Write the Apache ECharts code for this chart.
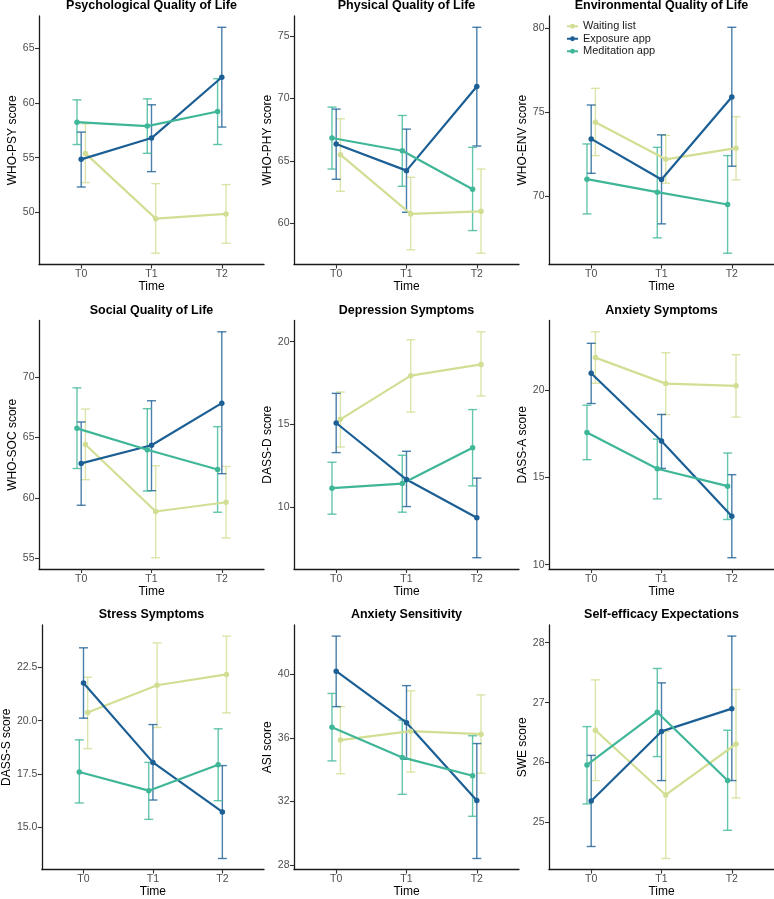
<!DOCTYPE html>
<html><head><meta charset="utf-8">
<script src="https://cdn.jsdelivr.net/npm/echarts@6/dist/echarts.min.js"></script>
<style>html,body{margin:0;padding:0;background:#fff}#c{width:774px;height:899px}</style>
</head><body><div id="c"></div>
<script>
// ---------- data ----------
const groups = ['Waiting list', 'Exposure app', 'Meditation app'];
const times = ['T0', 'T1', 'T2'];
const titles = ['Psychological Quality of Life', 'Physical Quality of Life', 'Environmental Quality of Life',
  'Social Quality of Life', 'Depression Symptoms', 'Anxiety Symptoms',
  'Stress Symptoms', 'Anxiety Sensitivity', 'Self-efficacy Expectations'];
const yNames = ['WHO-PSY score', 'WHO-PHY score', 'WHO-ENV score', 'WHO-SOC score',
  'DASS-D score', 'DASS-A score', 'DASS-S score', 'ASI score', 'SWE score'];
const yTicks = [[50, 55, 60, 65], [60, 65, 70, 75], [70, 75, 80], [55, 60, 65, 70],
  [10, 15, 20], [10, 15, 20], [15, 17.5, 20, 22.5], [28, 32, 36, 40], [25, 26, 27, 28]];
const yDecimals = [0, 0, 0, 0, 0, 0, 1, 0, 0];

// rows: Waiting list, Exposure app, Meditation app ; columns: T0, T1, T2
const psyMean = [[55.39, 49.45, 49.88], [54.85, 56.79, 62.33], [58.24, 57.88, 59.21]];
const psyLow  = [[52.73, 46.30, 47.21], [52.33, 53.73, 57.79], [56.20, 55.40, 56.20]];
const psyHigh = [[58.09, 52.64, 52.55], [57.33, 59.82, 66.88], [60.27, 60.36, 62.20]];

const phyMean = [[65.51, 60.77, 60.98], [66.36, 64.23, 70.96], [66.84, 65.82, 62.74]];
const phyLow  = [[62.58, 57.90, 57.63], [63.54, 60.90, 66.20], [64.36, 62.98, 59.44]];
const phyHigh = [[68.38, 63.70, 64.36], [69.15, 67.55, 75.69], [69.31, 68.64, 66.09]];

const envMean = [[74.41, 72.21, 72.87], [73.42, 71.01, 75.91], [71.03, 70.26, 69.53]];
const envLow  = [[72.43, 70.79, 70.99], [71.38, 68.38, 71.80], [68.97, 67.55, 66.64]];
const envHigh = [[76.42, 73.63, 74.74], [75.43, 73.66, 80.04], [73.12, 72.92, 72.43]];

const socMean = [[64.42, 58.86, 59.63], [62.85, 64.36, 67.85], [65.76, 63.98, 62.35]];
const socLow  = [[61.50, 55.03, 56.66], [59.38, 60.59, 62.00], [62.43, 60.56, 58.80]];
const socHigh = [[67.36, 62.65, 62.60], [66.29, 68.05, 73.77], [69.12, 67.39, 65.90]];

const depMean = [[15.31, 17.95, 18.63], [15.09, 11.67, 9.36], [11.15, 11.43, 13.60]];
const depLow  = [[13.64, 15.75, 16.72], [13.30, 10.04, 6.95], [9.58, 9.70, 11.29]];
const depHigh = [[16.96, 20.12, 20.60], [16.88, 13.38, 11.76], [12.72, 13.14, 15.90]];

const anxMean = [[21.87, 20.38, 20.25], [20.97, 17.09, 12.78], [17.58, 15.50, 14.50]];
const anxLow  = [[20.40, 18.61, 18.46], [19.24, 15.52, 10.40], [16.02, 13.77, 12.59]];
const anxHigh = [[23.35, 22.15, 22.04], [22.69, 18.61, 15.16], [19.14, 17.20, 16.40]];

const strMean = [[20.39, 21.67, 22.18], [21.77, 18.04, 15.71], [17.59, 16.71, 17.93]];
const strLow  = [[18.69, 19.68, 20.37], [20.12, 16.27, 13.52], [16.13, 15.36, 16.24]];
const strHigh = [[22.05, 23.66, 23.98], [23.43, 19.82, 17.89], [19.10, 18.04, 19.62]];

const asiMean = [[35.86, 36.42, 36.23], [40.19, 36.95, 32.06], [36.67, 34.77, 33.62]];
const asiLow  = [[33.74, 33.85, 33.77], [37.96, 34.65, 28.42], [34.55, 32.45, 31.07]];
const asiHigh = [[37.96, 38.95, 38.70], [42.39, 39.28, 35.64], [38.79, 37.12, 36.13]];

const sweMean = [[26.54, 25.46, 26.31], [25.36, 26.52, 26.90], [25.96, 26.84, 25.70]];
const sweLow  = [[25.70, 24.40, 25.41], [24.60, 25.70, 25.70], [25.31, 26.10, 24.87]];
const sweHigh = [[27.38, 26.52, 27.22], [26.12, 27.33, 28.11], [26.60, 27.57, 26.54]];

const means = [psyMean, phyMean, envMean, socMean, depMean, anxMean, strMean, asiMean, sweMean];
const lows  = [psyLow, phyLow, envLow, socLow, depLow, anxLow, strLow, asiLow, sweLow];
const highs = [psyHigh, phyHigh, envHigh, socHigh, depHigh, anxHigh, strHigh, asiHigh, sweHigh];

// ---------- style / layout ----------
const colors = ['#d2de94', '#1c5f95', '#3fb698'];
const dodge = [0.06, 0, -0.06];
const colLeft = [39, 294, 549];
const rowTop = [16, 320.5, 625];
const PW = 225, PH = 248.5;
const FONT = '"Liberation Sans", Arial, Helvetica, sans-serif';

const grid = [], xAxis = [], yAxis = [], series = [], graphic = [];

for (let p = 0; p < 9; p++) {
  const r = Math.floor(p / 3), c = p % 3;
  const left = colLeft[c], top = rowTop[r];
  grid.push({ left: left, top: top, width: PW, height: PH, containLabel: false });

  let lo = Infinity, hi = -Infinity;
  for (let g = 0; g < 3; g++) for (let t = 0; t < 3; t++) {
    lo = Math.min(lo, lows[p][g][t]); hi = Math.max(hi, highs[p][g][t]);
  }
  const pad = (hi - lo) * 0.05;

  xAxis.push({
    type: 'value', gridIndex: p, min: 0.4, max: 3.6,
    axisLine: { show: true, lineStyle: { color: '#1a1a1a', width: 1.3 } },
    axisTick: { show: true, length: 4, customValues: [1, 2, 3], lineStyle: { color: '#333', width: 1.1 } },
    axisLabel: { show: true, customValues: [1, 2, 3], margin: 4.5, color: '#4d4d4d', fontSize: 10.5, fontFamily: FONT,
      formatter: v => times[Math.round(v) - 1] },
    splitLine: { show: false },
    name: 'Time', nameLocation: 'middle', nameGap: 16,
    nameTextStyle: { color: '#000', fontSize: 12, fontFamily: FONT }
  });
  const dec = yDecimals[p];
  yAxis.push({
    type: 'value', gridIndex: p, min: lo - pad, max: hi + pad,
    axisLine: { show: true, lineStyle: { color: '#1a1a1a', width: 1.3 } },
    axisTick: { show: true, length: 4, customValues: yTicks[p], lineStyle: { color: '#333', width: 1.1 } },
    axisLabel: { show: true, customValues: yTicks[p], margin: 4.5, color: '#4d4d4d', fontSize: 10.5, fontFamily: FONT,
      formatter: v => Number(v).toFixed(dec) },
    splitLine: { show: false },
    name: yNames[p], nameLocation: 'middle', nameGap: 20, nameRotate: 90,
    nameTextStyle: { color: '#000', fontSize: 12, fontFamily: FONT }
  });

  graphic.push({
    type: 'text', x: left + PW / 2, y: top - 10, silent: true,
    style: { text: titles[p], fill: '#000', fontSize: 12.5, fontWeight: 'bold', fontFamily: FONT,
      align: 'center', verticalAlign: 'middle' }
  });

  for (let g = 0; g < 3; g++) {
    const ebData = [];
    for (let t = 0; t < 3; t++) {
      ebData.push([t + 1 + dodge[g], lows[p][g][t], highs[p][g][t]]);
    }
    const col = colors[g];
    series.push({
      type: 'custom', name: 'eb_' + g, xAxisIndex: p, yAxisIndex: p, z: 2,
      data: ebData, encode: { x: 0, y: [1, 2] }, silent: true,
      renderItem: (params, api) => {
        const x = api.value(0);
        const a = api.coord([x, api.value(1)]);
        const b = api.coord([x, api.value(2)]);
        const hw = 4.5;
        const st = { stroke: col, lineWidth: 1.4, opacity: 0.8 };
        return { type: 'group', children: [
          { type: 'line', shape: { x1: a[0], y1: a[1], x2: b[0], y2: b[1] }, style: st },
          { type: 'line', shape: { x1: a[0] - hw, y1: a[1], x2: a[0] + hw, y2: a[1] }, style: st },
          { type: 'line', shape: { x1: b[0] - hw, y1: b[1], x2: b[0] + hw, y2: b[1] }, style: st }
        ]};
      }
    });
  }
  for (let g = 0; g < 3; g++) {
    const lineData = [];
    for (let t = 0; t < 3; t++) lineData.push([t + 1 + dodge[g], means[p][g][t]]);
    series.push({
      type: 'line', name: groups[g], xAxisIndex: p, yAxisIndex: p, z: 3,
      data: lineData, symbol: 'circle', symbolSize: 5.5, showSymbol: true,
      lineStyle: { color: colors[g], width: 2.2 }, itemStyle: { color: colors[g] },
      emphasis: { disabled: true }
    });
  }
}

const chart = echarts.init(document.getElementById('c'), null, { renderer: 'canvas' });
chart.setOption({
  animation: false,
  backgroundColor: '#fff',
  textStyle: { fontFamily: FONT },
  legend: {
    data: groups, orient: 'vertical', left: 566, top: 20.5, itemWidth: 11, itemHeight: 6, itemGap: 1,
    padding: 0, textStyle: { fontSize: 11, color: '#1a1a1a', fontFamily: FONT, lineHeight: 11.5 },
    selectedMode: false
  },
  grid, xAxis, yAxis, series, graphic
});
</script>
</body></html>
